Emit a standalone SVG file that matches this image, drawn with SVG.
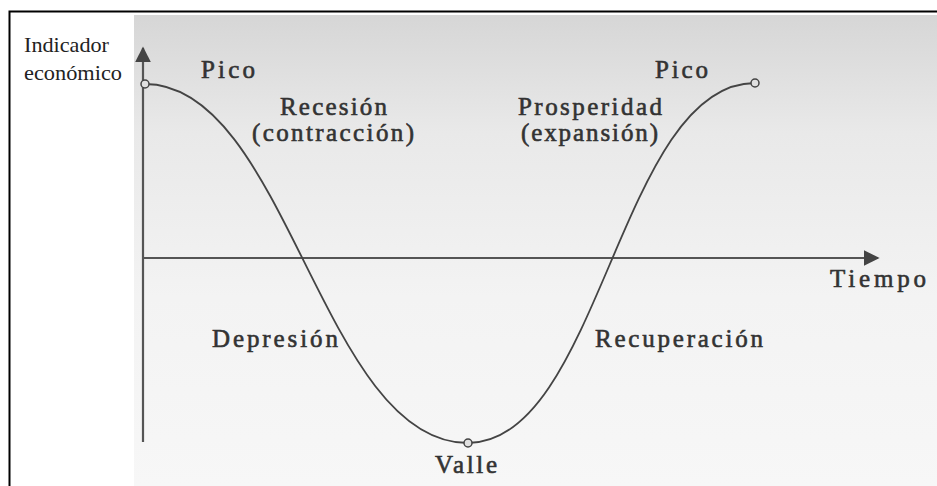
<svg xmlns="http://www.w3.org/2000/svg" width="937" height="486" viewBox="0 0 937 486">
<defs>
<linearGradient id="bg" x1="0" y1="0" x2="0" y2="1">
<stop offset="0" stop-color="#d6d6d6"/>
<stop offset="0.25" stop-color="#e9e9e9"/>
<stop offset="0.6" stop-color="#f3f3f3"/>
<stop offset="1" stop-color="#f7f7f7"/>
</linearGradient>
<marker id="arr" viewBox="0 0 10 10" refX="9" refY="5" markerWidth="16" markerHeight="16" markerUnits="userSpaceOnUse" orient="auto">
<path d="M0,0 L10,5 L0,10 Z" fill="#444"/>
</marker>
<style>
text{font-family:'Liberation Serif','DejaVu Serif','Times New Roman',serif}
.lbl{font-size:25px;fill:#333;stroke:#333;stroke-width:0.6}
.ax{font-size:21px;fill:#222}
.axis{stroke:#555;stroke-width:2.2;fill:none}
.curve{stroke:#444;stroke-width:1.8;fill:none}
.pt{stroke:#444;stroke-width:1.5;fill:#e0e0e0}
</style>
</defs>
<rect x="0" y="0" width="937" height="486" fill="#ffffff"/>
<rect x="134" y="15" width="803" height="471" fill="url(#bg)"/>
<path d="M9.5,486 L9.5,11.5 L937,11.5" fill="none" stroke="#000" stroke-width="2"/>
<g id="connectors">
<line class="axis" x1="143" y1="442" x2="143" y2="48" marker-end="url(#arr)"/>
<line class="axis" x1="143" y1="258" x2="878" y2="258" marker-end="url(#arr)"/>
<path id="cycle" class="curve" d="M145,84 C287,84 322,443 468,443 C600,443 620,83 755,83"/>
</g>
<g id="points">
<circle class="pt" cx="145" cy="84" r="4"/>
<circle class="pt" cx="468" cy="443" r="4"/>
<circle class="pt" cx="755" cy="83" r="4"/>
</g>
<g id="axis-labels">
<text class="ax" x="24" y="52" textLength="85" lengthAdjust="spacingAndGlyphs">Indicador</text>
<text class="ax" x="24" y="80" textLength="98" lengthAdjust="spacingAndGlyphs">económico</text>
<text class="lbl" x="830" y="287" textLength="96" lengthAdjust="spacing">Tiempo</text>
</g>
<g id="pico1"><text class="lbl" x="201" y="78" textLength="54" lengthAdjust="spacing">Pico</text></g>
<g id="recesion">
<text class="lbl" x="280" y="115" textLength="107" lengthAdjust="spacing">Recesión</text>
<text class="lbl" x="252" y="141" textLength="162" lengthAdjust="spacing">(contracción)</text>
</g>
<g id="prosperidad">
<text class="lbl" x="518" y="115" textLength="144" lengthAdjust="spacing">Prosperidad</text>
<text class="lbl" x="521" y="141" textLength="137" lengthAdjust="spacing">(expansión)</text>
</g>
<g id="pico2"><text class="lbl" x="655" y="78" textLength="53" lengthAdjust="spacing">Pico</text></g>
<g id="depresion"><text class="lbl" x="212" y="347" textLength="126" lengthAdjust="spacing">Depresión</text></g>
<g id="recuperacion"><text class="lbl" x="595" y="347" textLength="168" lengthAdjust="spacing">Recuperación</text></g>
<g id="valle"><text class="lbl" x="435" y="473" textLength="62" lengthAdjust="spacing">Valle</text></g>
</svg>
